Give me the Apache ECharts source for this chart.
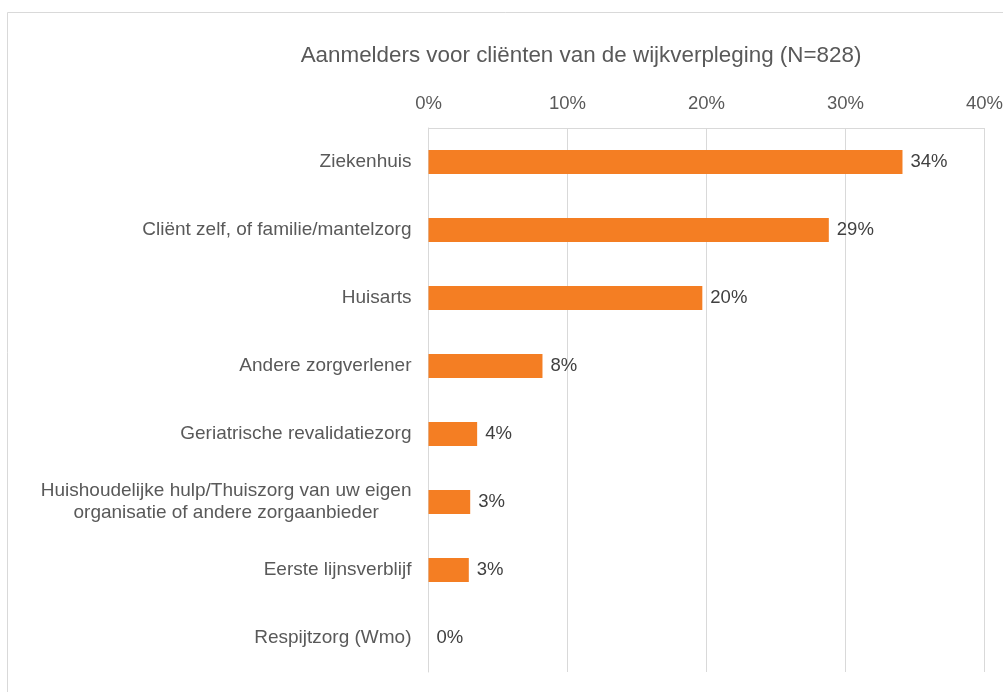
<!DOCTYPE html>
<html>
<head>
<meta charset="utf-8">
<script src="https://cdn.jsdelivr.net/npm/echarts@6/dist/echarts.min.js"></script>
<style>
  html, body { margin: 0; padding: 0; background: #fff; }
  #chart { width: 1003px; height: 692px; }
</style>
</head>
<body>
<div id="chart"></div>
<script>
// Aanmelders, top to bottom
const categories = [
    'Ziekenhuis',
    'Cliënt zelf, of familie/mantelzorg',
    'Huisarts',
    'Andere zorgverlener',
    'Geriatrische revalidatiezorg',
    'Huishoudelijke hulp/Thuiszorg van uw eigen\norganisatie of andere zorgaanbieder',
    'Eerste lijnsverblijf',
    'Respijtzorg (Wmo)'
];
// percentages
const shares = [34.1, 28.8, 19.7, 8.2, 3.5, 3.0, 2.9, 0];
const xTicks = [0, 10, 20, 30, 40];

const chart = echarts.init(document.getElementById('chart'));
const font = 'Liberation Sans, Arial, sans-serif';
const labelSize = 19;

// two-line label is centred in the original; widen its box so it still ends at the axis
function textWidth(str) {
    const ctx = document.createElement('canvas').getContext('2d');
    ctx.font = labelSize + 'px ' + font;
    return Math.max(...str.split('\n').map(s => ctx.measureText(s).width));
}
const yData = categories.map(c => {
    if (c.indexOf('\n') < 0) return c;
    return {
        value: c,
        textStyle: { align: 'center', padding: [0, textWidth(c), 0, 0] }
    };
});

const option = {
    backgroundColor: '#fff',
    textStyle: { fontFamily: font },
    title: {
        text: 'Aanmelders voor cliënten van de wijkverpleging (N=828)',
        left: 576,
        textAlign: 'center',
        top: 40,
        textStyle: { fontFamily: font, fontSize: 22.4, fontWeight: 'normal', color: '#595959' }
    },
    graphic: [{
        type: 'rect',
        shape: { x: 7.5, y: 12.5, width: 1100, height: 800 },
        style: { fill: 'none', stroke: '#d9d9d9', lineWidth: 1 },
        silent: true
    }],
    grid: {
        left: 428.5, right: 18.5, top: 128, height: 544,
        containLabel: false,
        outerBoundsMode: 'none'
    },
    xAxis: {
        type: 'value',
        position: 'top',
        min: xTicks[0],
        max: xTicks[xTicks.length - 1],
        interval: 10,
        axisLine: { show: true, lineStyle: { color: '#d9d9d9' } },
        axisTick: { show: false },
        splitLine: { lineStyle: { color: '#d9d9d9' } },
        axisLabel: {
            formatter: v => v + '%',
            color: '#595959',
            fontSize: 18.5,
            margin: 15,
            fontFamily: font
        }
    },
    yAxis: {
        type: 'category',
        inverse: true,
        data: yData,
        axisLine: { show: true, lineStyle: { color: '#d9d9d9' } },
        axisTick: { show: false },
        axisLabel: {
            color: '#595959',
            fontSize: labelSize,
            margin: 17,
            lineHeight: 22,
            fontFamily: font
        }
    },
    series: [{
        type: 'bar',
        data: shares,
        barWidth: 24,
        itemStyle: { color: '#f47e23' },
        label: {
            show: true,
            position: 'right',
            distance: 8,
            color: '#404040',
            fontSize: 18.5,
            fontFamily: font,
            formatter: p => Math.round(p.value) + '%'
        },
        silent: true
    }]
};

chart.setOption(option);
</script>
</body>
</html>
